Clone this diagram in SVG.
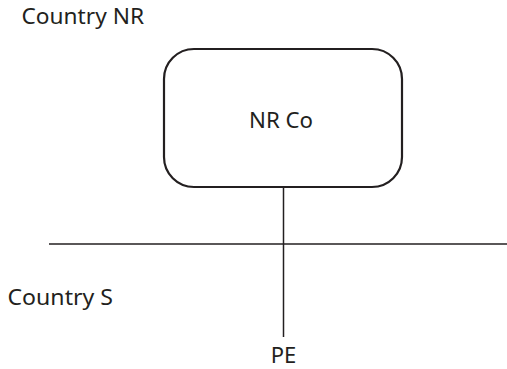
<svg xmlns="http://www.w3.org/2000/svg" width="507" height="369" viewBox="0 0 507 369">
<style>
text{font-family:"Noto Sans","Open Sans","Liberation Sans",sans-serif;font-size:22px;fill:#231f20}
.ln{stroke:#231f20;stroke-width:1.5;fill:none}
.box{stroke:#231f20;stroke-width:2.2;fill:#fff}
</style>
<rect width="507" height="369" fill="#fff"/>
<g id="connectors">
<line class="ln" x1="49" y1="244" x2="507" y2="244"/>
<line class="ln" x1="283.5" y1="187" x2="283.5" y2="337"/>
</g>
<g id="nrco">
<rect class="box" x="164" y="49" width="238" height="138" rx="30" ry="30"/>
<text x="249" y="128" textLength="64" lengthAdjust="spacingAndGlyphs">NR Co</text>
</g>
<g id="country-nr"><text x="21.5" y="24" textLength="122.5" lengthAdjust="spacingAndGlyphs">Country NR</text></g>
<g id="country-s"><text x="7.5" y="305" textLength="105.5" lengthAdjust="spacingAndGlyphs">Country S</text></g>
<g id="pe"><text x="283.5" y="363" text-anchor="middle" font-size="21">PE</text></g>
</svg>
